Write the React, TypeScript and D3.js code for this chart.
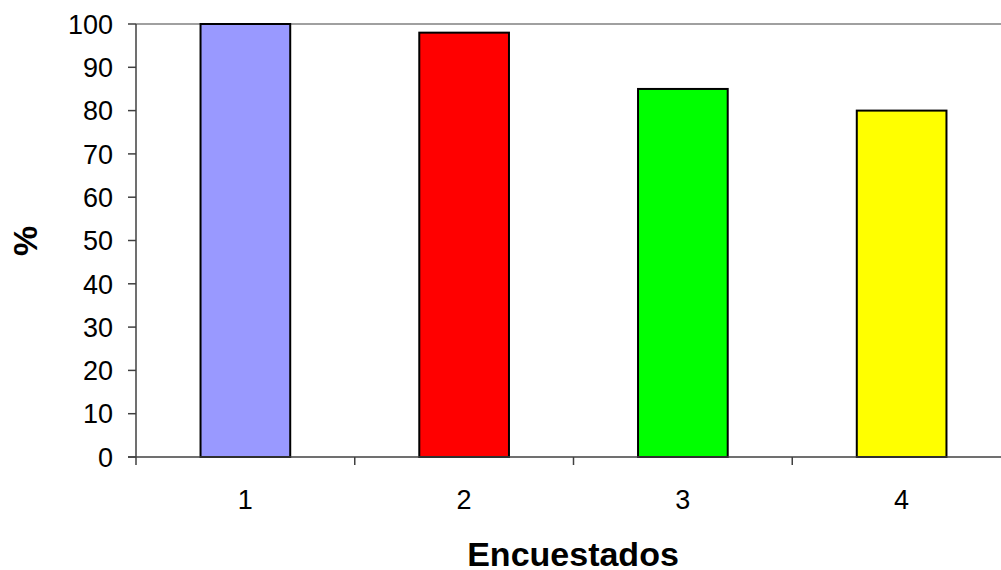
import React from "react";
import * as d3 from "d3";

const categories = ["1", "2", "3", "4"];
const values = [100, 98, 85, 80];
const colors = ["#9999FF", "#FF0000", "#00FF00", "#FFFF00"];
const yTicks = [0, 10, 20, 30, 40, 50, 60, 70, 80, 90, 100];

export default function App() {
  const W = 1001, H = 570;
  const left = 136, top = 24, bottom = 457;
  const step = 218.75;
  const x = d3.scaleBand<string>().domain(categories).range([left, left + step * 4]).paddingInner(0.59).paddingOuter(0.295);
  const xs = d3.scaleBand<string>().domain(categories).range([left, left + step * 4]);
  const y = d3.scaleLinear().domain([0, 100]).range([bottom, top]);
  const font = "'Liberation Sans', Arial, sans-serif";
  return (
    <svg width={W} height={H} style={{ position: "absolute", left: 0, top: 0 }} fontFamily={font}>
      <rect width={W} height={H} fill="#fff" />
      <line x1={left} x2={W} y1={y(100)} y2={y(100)} stroke="#a0a0a0" strokeWidth={2} />
      {categories.map((c, i) => (
        <rect key={c} x={x(c)} y={y(values[i])} width={x.bandwidth()} height={bottom - y(values[i])}
          fill={colors[i]} stroke="#000" strokeWidth={2} />
      ))}
      <line x1={left} x2={left} y1={top} y2={bottom} stroke="#404040" strokeWidth={1.5} />
      <line x1={left - 8} x2={W} y1={bottom} y2={bottom} stroke="#404040" strokeWidth={1.5} />
      {yTicks.map(t => (
        <g key={t}>
          <line x1={left - 8} x2={left} y1={y(t)} y2={y(t)} stroke="#404040" strokeWidth={1.5} />
          <text x={113} y={y(t)} dy="0.36em" textAnchor="end" fontSize={27} fill="#000">{t}</text>
        </g>
      ))}
      {categories.map(c => (
        <g key={c}>
          <line x1={xs(c)} x2={xs(c)} y1={bottom} y2={bottom + 8} stroke="#404040" strokeWidth={1.5} />
          <text x={(xs(c) as number) + step / 2} y={509} textAnchor="middle" fontSize={27} fill="#000">{c}</text>
        </g>
      ))}
      <text x={573} y={566} textAnchor="middle" fontSize={34} fontWeight="bold" fill="#000">Encuestados</text>
      <text transform={`translate(37,241) rotate(-90)`} textAnchor="middle" fontSize={34} fontWeight="bold" fill="#000">%</text>
    </svg>
  );
}
